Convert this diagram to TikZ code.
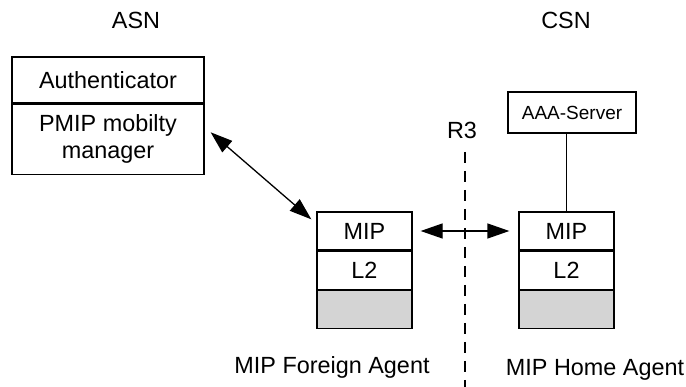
\documentclass[tikz,border=0pt]{standalone}
\usepackage{fontspec}
\setmainfont{Liberation Sans}
\usetikzlibrary{positioning,calc,arrows.meta}

\begin{document}
\begin{tikzpicture}[x=1pt,y=-1pt,line width=1.3pt,font=\fontsize{23.4}{27}\selectfont,
  layer/.style={draw,minimum width=95pt,minimum height=38pt,inner sep=0pt},
  tip/.style={{Triangle[length=22pt,width=15pt]}-{Triangle[length=22pt,width=15pt]}}]
\useasboundingbox (0,0) rectangle (686,387);
% domain labels
\node (asn) at (136,20) {ASN};
\node (csn) at (566,20) {CSN};
% ASN box
\node[draw,minimum width=192pt,minimum height=46pt,inner sep=0pt] (auth) at (108,80) {Authenticator};
\node[draw,minimum width=192pt,minimum height=70pt,inner sep=0pt,align=center,below=0pt of auth] (pmip) {PMIP mobilty\\manager};
% foreign agent stack
\node[layer] (fa1) at (364.5,231) {MIP};
\node[layer,below=0pt of fa1] (fa2) {L2};
\node[layer,fill=black!17,below=0pt of fa2] (fa3) {};
% home agent stack
\node[layer] (ha1) at (566.5,231) {MIP};
\node[layer,below=0pt of ha1] (ha2) {L2};
\node[layer,fill=black!17,below=0pt of ha2] (ha3) {};
% AAA
\node[draw,font=\fontsize{19}{22}\selectfont,minimum width=128pt,minimum height=41pt,inner sep=0pt] (aaa) at (572,112.5) {AAA-Server};
\draw (ha1.north) -- (ha1.north |- aaa.south);
% reference point R3
\node (r3) at (462,130) {R3};
\coordinate (r3top) at (465,152);
\coordinate (r3bot) at (465,387);
\draw[dash pattern=on 11pt off 8pt] (r3top) -- (r3bot);
% connectors
\draw[tip] ([xshift=6pt,yshift=7pt]pmip.east) -- ([xshift=-5pt,yshift=-8pt]fa1.north west);
\draw[tip,shorten <=8pt,shorten >=9pt] (fa1) -- (ha1);
% agent labels
\node (fa) at (332,367) {MIP Foreign Agent};
\node (ha) at (595,370) {MIP Home Agent};
\end{tikzpicture}
\end{document}
